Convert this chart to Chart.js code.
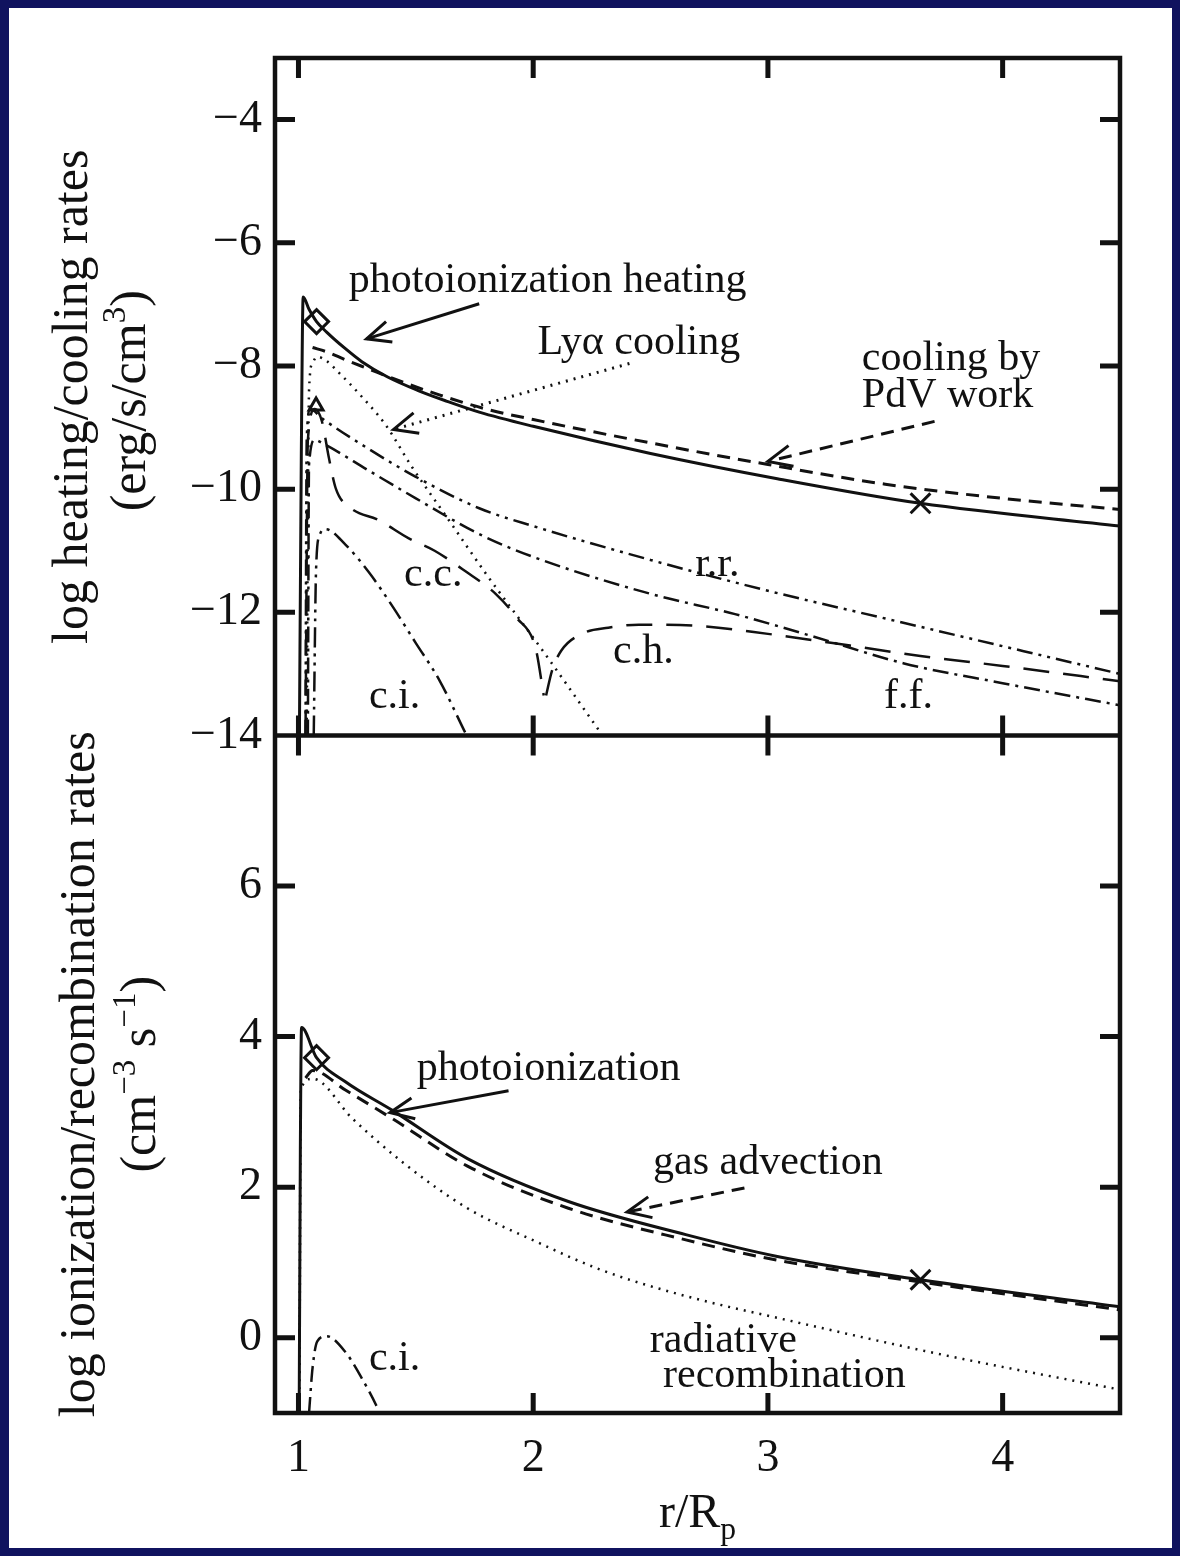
<!DOCTYPE html>
<html>
<head>
<meta charset="utf-8">
<title>Heating, cooling and ionization rates</title>
<script src="https://cdn.jsdelivr.net/npm/chart.js@4.4.1/dist/chart.umd.min.js"></script>
<style>
  html, body { margin: 0; padding: 0; background: #10135f; }
  canvas { display: block; }
</style>
</head>
<body>
<canvas id="rates" width="1180" height="1556"></canvas>
<script>
// ---- upper panel: log heating / cooling rates (erg/s/cm^3) vs r/Rp ----
const heatR    = [1.004, 1.012, 1.02, 1.045, 1.077, 1.12, 1.2, 1.27, 1.38, 1.51, 1.63, 1.77, 2.0, 2.5, 3.04, 3.65, 4.5];
const heatRate = [-14, -9.5, -6.88, -7.08, -7.28, -7.45, -7.72, -7.93, -8.18, -8.4, -8.57, -8.75, -8.98, -9.42, -9.83, -10.23, -10.6];

const pdvR    = [1.06, 1.12, 1.2, 1.3, 1.4, 1.6, 1.8, 2.0, 2.5, 3.0, 3.5, 4.0, 4.5];
const pdvRate = [-7.7, -7.77, -7.9, -8.05, -8.2, -8.47, -8.7, -8.87, -9.25, -9.6, -9.92, -10.15, -10.33];

const lyaR    = [1.035, 1.04, 1.045, 1.06, 1.08, 1.12, 1.17, 1.27, 1.37, 1.48, 1.64, 1.8, 2.04, 2.29];
const lyaRate = [-14, -10.5, -8.4, -7.95, -7.85, -7.92, -8.1, -8.5, -8.95, -9.62, -10.5, -11.38, -12.62, -13.97];

const rrR    = [1.03, 1.035, 1.05, 1.1, 1.3, 1.5, 1.77, 2.0, 2.5, 3.0, 3.5, 4.0, 4.5];
const rrRate = [-14, -9.2, -8.7, -8.85, -9.35, -9.8, -10.31, -10.6, -11.15, -11.65, -12.1, -12.55, -13.0];

const ffR    = [1.04, 1.045, 1.07, 1.1, 1.3, 1.5, 1.77, 2.0, 2.5, 2.86, 3.2, 3.58, 4.0, 4.5];
const ffRate = [-14, -9.6, -9.2, -9.25, -9.7, -10.15, -10.73, -11.1, -11.7, -12.03, -12.4, -12.83, -13.15, -13.51];

const ccR    = [1.03, 1.04, 1.07, 1.1, 1.13, 1.16, 1.22, 1.34, 1.47, 1.58, 1.71, 1.84, 1.93, 2.01, 2.045];
const ccRate = [-14, -9.2, -8.7, -8.9, -9.5, -10.0, -10.3, -10.5, -10.8, -11.0, -11.33, -11.7, -12.09, -12.58, -13.35];

const chR    = [2.055, 2.08, 2.12, 2.22, 2.32, 2.45, 2.7, 3.0, 3.35, 3.65, 4.0, 4.5];
const chRate = [-13.35, -12.95, -12.62, -12.33, -12.25, -12.2, -12.22, -12.35, -12.54, -12.71, -12.87, -13.12];

const ciR    = [1.065, 1.075, 1.09, 1.115, 1.2, 1.3, 1.4, 1.5, 1.6, 1.71];
const ciRate = [-14, -11.3, -10.75, -10.65, -10.9, -11.35, -11.9, -12.5, -13.1, -13.95];

// ---- lower panel: log ionization / recombination rates (cm^-3 s^-1) ----
const ionR    = [1.003, 1.008, 1.013, 1.077, 1.2, 1.4, 1.72, 2.15, 2.65, 3.04, 3.65, 4.5];
const ionRate = [-1, 2.5, 4.12, 3.72, 3.4, 3.02, 2.38, 1.81, 1.37, 1.08, 0.77, 0.41];

const advR    = [1.03, 1.06, 1.2, 1.4, 1.72, 2.15, 2.65, 3.04, 3.65, 4.5];
const advRate = [3.45, 3.55, 3.29, 2.91, 2.28, 1.72, 1.3, 1.03, 0.74, 0.37];

const recR    = [1.004, 1.01, 1.06, 1.23, 1.44, 1.72, 2.01, 2.29, 2.63, 3.13, 3.75, 4.5];
const recRate = [-1, 3.3, 3.44, 2.91, 2.34, 1.72, 1.28, 0.9, 0.57, 0.2, -0.23, -0.69];

const ciIonR    = [1.045, 1.06, 1.08, 1.12, 1.2, 1.27, 1.33, 1.345];
const ciIonRate = [-1, -0.4, -0.05, 0.02, -0.19, -0.54, -0.89, -1];

// special points (diamond, cross, triangle)
const diamondR = [1.077], diamondTop = [-7.28], diamondBot = [3.72];
const crossR = [3.65], crossTop = [-10.23], crossBot = [0.77];
const triR = [1.075], triTop = [-8.65];

// tick values
const rTicks = [1, 2, 3, 4];
const topTicks = [-14, -12, -10, -8, -6, -4];
const botTicks = [0, 2, 4, 6];

// curve labels: [text, r, log rate, align]
const topNotes = [
  ['photoionization heating', 2.062, -6.80, 'center'],
  ['Ly\u03b1 cooling', 2.45, -7.80, 'center'],
  ['cooling by', 3.40, -8.06, 'left'],
  ['PdV work', 3.40, -8.66, 'left'],
  ['c.c.', 1.45, -11.57, 'left'],
  ['c.i.', 1.30, -13.56, 'left'],
  ['c.h.', 2.34, -12.82, 'left'],
  ['r.r.', 2.69, -11.41, 'left'],
  ['f.f.', 3.495, -13.56, 'left']
];
const botNotes = [
  ['photoionization', 2.066, 3.43, 'center'],
  ['gas advection', 3.0, 2.18, 'center'],
  ['radiative', 2.81, -0.19, 'center'],
  ['recombination', 3.07, -0.65, 'center'],
  ['c.i.', 1.30, -0.43, 'left']
];
// arrows: [r0, v0, r1, v1, dash]
const topArrows = [
  [1.77, -6.99, 1.29, -7.56, []],
  [2.41, -7.96, 1.405, -9.03, [2, 6]],
  [3.71, -8.90, 3.0, -9.55, [13, 8]]
];
const botArrows = [
  [1.895, 3.28, 1.39, 2.99, []],
  [2.90, 1.99, 2.40, 1.67, [13, 8]]
];

const ink = '#111111';
const serif = "'Liberation Serif', 'DejaVu Serif', serif";
const tickLen = 20;

const pts = (xs, ys) => xs.map((x, i) => ({ x: x, y: ys[i] }));

function curve(xs, ys, axis, dash, width) {
  return {
    data: pts(xs, ys),
    yAxisID: axis,
    borderColor: ink,
    borderWidth: width || 2.5,
    borderDash: dash,
    pointRadius: 0,
    fill: false,
    cubicInterpolationMode: 'monotone'
  };
}

function marker(xs, ys, axis, style, radius) {
  return {
    data: pts(xs, ys),
    yAxisID: axis,
    showLine: false,
    pointStyle: style,
    pointRadius: radius,
    pointBorderColor: ink,
    pointBackgroundColor: 'rgba(255,255,255,0)',
    pointBorderWidth: 3
  };
}

const dotted = [2, 6];
const dashed = [13, 8];
const longDash = [26, 14];
const dashDot = [16, 6, 3, 6];
const dashDotDot = [16, 6, 3, 6, 3, 6];

const datasets = [
  curve(heatR, heatRate, 'yTop', [], 3),
  curve(pdvR, pdvRate, 'yTop', dashed, 3),
  curve(lyaR, lyaRate, 'yTop', dotted),
  curve(rrR, rrRate, 'yTop', dashDotDot),
  curve(ffR, ffRate, 'yTop', dashDot),
  curve(ccR, ccRate, 'yTop', longDash),
  curve(chR, chRate, 'yTop', longDash),
  curve(ciR, ciRate, 'yTop', [20, 6, 3, 6, 3, 6]),
  curve(ionR, ionRate, 'yBot', [], 3),
  curve(advR, advRate, 'yBot', dashed, 3),
  curve(recR, recRate, 'yBot', dotted),
  curve(ciIonR, ciIonRate, 'yBot', dashDot),
  marker(diamondR, diamondTop, 'yTop', 'rectRot', 12),
  marker(diamondR, diamondBot, 'yBot', 'rectRot', 12),
  marker(crossR, crossTop, 'yTop', 'crossRot', 14),
  marker(crossR, crossBot, 'yBot', 'crossRot', 14),
  marker(triR, triTop, 'yTop', 'triangle', 8)
];

const fmt = v => (v < 0 ? '\u2212' + Math.abs(v) : String(v));

function yAxis(min, max, ticks) {
  return {
    type: 'linear',
    position: 'left',
    stack: 'panels',
    stackWeight: 1,
    min: min,
    max: max,
    grid: { display: false, drawTicks: false },
    border: { display: false },
    ticks: { color: ink, font: { family: serif, size: 46 }, padding: 13, callback: fmt },
    afterBuildTicks: s => { s.ticks = ticks.map(v => ({ value: v })); },
    afterFit: s => { s.width = 275; }
  };
}

// navy page edge with white paper inside
const paper = {
  id: 'paper',
  beforeDraw(chart) {
    const { ctx, width, height } = chart;
    ctx.save();
    ctx.fillStyle = '#10135f';
    ctx.fillRect(0, 0, width, height);
    ctx.fillStyle = '#ffffff';
    ctx.fillRect(9, 8, width - 17, height - 16);
    ctx.restore();
  }
};

// box around both panels with inward ticks on every side
const frame = {
  id: 'frame',
  afterDatasetsDraw(chart) {
    const { ctx, chartArea: a } = chart;
    const { x, yTop, yBot } = chart.scales;
    const mid = yTop.bottom;
    ctx.save();
    ctx.strokeStyle = ink;
    ctx.lineWidth = 4.5;
    ctx.strokeRect(a.left, a.top, a.right - a.left, a.bottom - a.top);
    ctx.beginPath();
    ctx.moveTo(a.left, mid);
    ctx.lineTo(a.right, mid);
    ctx.stroke();
    ctx.lineWidth = 5;
    ctx.beginPath();
    x.ticks.forEach(t => {
      const px = x.getPixelForValue(t.value);
      ctx.moveTo(px, a.top); ctx.lineTo(px, a.top + tickLen);
      ctx.moveTo(px, mid - tickLen); ctx.lineTo(px, mid + tickLen);
      ctx.moveTo(px, a.bottom); ctx.lineTo(px, a.bottom - tickLen);
    });
    [yTop, yBot].forEach(s => s.ticks.forEach(t => {
      if (t.value <= s.min || t.value >= s.max) return;
      const py = s.getPixelForValue(t.value);
      ctx.moveTo(a.left, py); ctx.lineTo(a.left + tickLen, py);
      ctx.moveTo(a.right, py); ctx.lineTo(a.right - tickLen, py);
    }));
    ctx.stroke();
    ctx.restore();
  }
};

// text with superscript / subscript pieces: [text, shift] where shift 1 = sup, -1 = sub
function richWidth(ctx, parts, size) {
  let w = 0;
  parts.forEach(([t, k]) => {
    ctx.font = (k ? size * 0.66 : size) + 'px ' + serif;
    w += ctx.measureText(t).width;
  });
  return w;
}
function drawRich(ctx, parts, x, y, size) {
  let cx = x;
  parts.forEach(([t, k]) => {
    const s = k ? size * 0.66 : size;
    ctx.font = s + 'px ' + serif;
    const dy = k === 1 ? -size * 0.4 : (k === -1 ? size * 0.25 : 0);
    ctx.fillText(t, cx, y + dy);
    cx += ctx.measureText(t).width;
  });
}
function vertical(ctx, parts, baseX, cy, size) {
  ctx.save();
  ctx.translate(baseX, cy);
  ctx.rotate(-Math.PI / 2);
  drawRich(ctx, parts, -richWidth(ctx, parts, size) / 2, 0, size);
  ctx.restore();
}

function arrow(ctx, x0, y0, x1, y1, dash) {
  ctx.setLineDash(dash);
  ctx.beginPath();
  ctx.moveTo(x0, y0);
  ctx.lineTo(x1, y1);
  ctx.stroke();
  ctx.setLineDash([]);
  const ang = Math.atan2(y1 - y0, x1 - x0), len = 26, spread = 0.42;
  ctx.beginPath();
  ctx.moveTo(x1 - len * Math.cos(ang - spread), y1 - len * Math.sin(ang - spread));
  ctx.lineTo(x1, y1);
  ctx.lineTo(x1 - len * Math.cos(ang + spread), y1 - len * Math.sin(ang + spread));
  ctx.stroke();
}

// curve names, arrows and axis titles
const notes = {
  id: 'notes',
  afterDraw(chart) {
    const { ctx, chartArea: a } = chart;
    const { x, yTop, yBot } = chart.scales;
    ctx.save();
    ctx.fillStyle = ink;
    ctx.strokeStyle = ink;
    ctx.lineWidth = 3;
    ctx.lineCap = 'butt';
    ctx.textBaseline = 'alphabetic';
    ctx.font = '42px ' + serif;
    [[topNotes, yTop], [botNotes, yBot]].forEach(([list, s]) => {
      list.forEach(([t, r, v, al]) => {
        ctx.textAlign = al;
        ctx.fillText(t, x.getPixelForValue(r), s.getPixelForValue(v));
      });
    });
    [[topArrows, yTop], [botArrows, yBot]].forEach(([list, s]) => {
      list.forEach(([r0, v0, r1, v1, dash]) => {
        arrow(ctx, x.getPixelForValue(r0), s.getPixelForValue(v0),
          x.getPixelForValue(r1), s.getPixelForValue(v1), dash);
      });
    });

    ctx.textAlign = 'left';
    const topMid = (yTop.top + yTop.bottom) / 2;
    const botMid = (yBot.top + yBot.bottom) / 2;
    vertical(ctx, [['log heating/cooling rates', 0]], 87, topMid, 50);
    vertical(ctx, [['(erg/s/cm', 0], ['3', 1], [')', 0]], 145, topMid + 4, 50);
    vertical(ctx, [['log ionization/recombination rates', 0]], 94, botMid, 50);
    vertical(ctx, [['(cm', 0], ['\u22123', 1], [' s', 0], ['\u22121', 1], [')', 0]], 155, botMid, 50);

    const xt = [['r/R', 0], ['p', -1]];
    drawRich(ctx, xt, (a.left + a.right) / 2 - richWidth(ctx, xt, 48) / 2, 1527, 48);
    ctx.restore();
  }
};

new Chart(document.getElementById('rates'), {
  type: 'line',
  data: { datasets: datasets },
  options: {
    responsive: false,
    animation: false,
    layout: { padding: { top: 58, right: 60, left: 0, bottom: 0 } },
    plugins: { legend: { display: false }, tooltip: { enabled: false } },
    scales: {
      x: {
        type: 'linear',
        min: 0.9,
        max: 4.5,
        grid: { display: false, drawTicks: false },
        border: { display: false },
        ticks: { color: ink, font: { family: serif, size: 46 }, padding: 18, maxRotation: 0, callback: fmt },
        afterBuildTicks: s => { s.ticks = rTicks.map(v => ({ value: v })); },
        afterFit: s => { s.height = 143; }
      },
      // stacked panels: the first axis in the stack sits at the bottom
      yBot: yAxis(-1, 8, botTicks),
      yTop: yAxis(-14, -3, topTicks)
    }
  },
  plugins: [paper, frame, notes]
});
</script>
</body>
</html>
